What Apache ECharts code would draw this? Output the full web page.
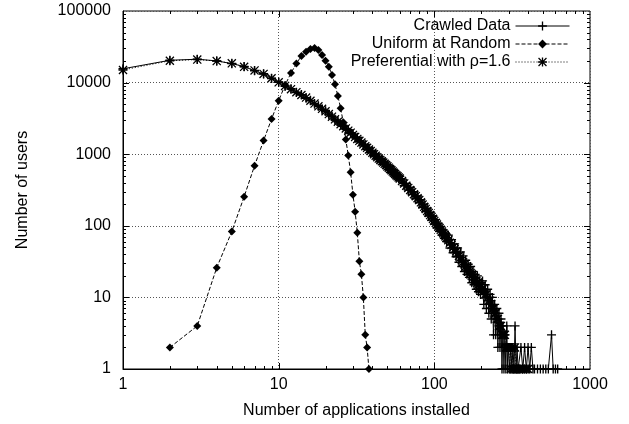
<!DOCTYPE html>
<html>
<head>
<meta charset="utf-8">
<script src="https://cdn.jsdelivr.net/npm/echarts@6/dist/echarts.min.js"></script>
<style>
html,body{margin:0;padding:0;background:#fff}
#main{width:629px;height:424px}
</style>
</head>
<body>
<div id="main"></div>
<script>
// number of applications installed (x) shared by the two long curves
const appsX = [1,2,3,4,5,6,7,8,9,10,11,12,13,14,15,16,17,18,19,20,21,22,23,24,25,26,27,28,29,30,
  31,32,33,34,35,36,37,38,39,40,41,42,43,44,45,46,47,48,49,50,51,52,53,54,55,56,57,58,59,60,
  62,64,66,68,70,72,74,76,78,80,82,84,86,88,90,92,94,96,98,100,102,104,106,108,110,112,114,116,118,120,
  123,126,129,132,135,138,141,144,147,150,153,156,159,162,165,168,171,174,177,180,183,186,189,192,195,198,201]

const crawledUsers = [15600,20500,21200,20100,18400,16800,14600,13300,11400,10200,8900,8200,7250,6800,6050,5650,5000,4750,4200,4050,3550,3400,3000,2900,2560,2520,2230,2200,1940,1910,
  1690,1720,1490,1520,1310,1360,1170,1220,1060,1110,960,1010,860,920,790,850,720,780,670,710,
  610,670,560,610,520,560,480,520,450,490,
  450,365,390,315,345,272,300,238,262,210,232,180,202,158,176,137,155,120,136,106,
  122,94,107,84,97,74,87,67,78,60,
  74,49,64,42,56,37,49,31,43,27,38,23,33,21,29,19,27,16,23,15,21,13,20,12,17,11,16]

const prefUsers = [15000,20200,21000,20000,18600,16600,14800,13200,11500,10100,9000,8090,7350,6710,6170,5580,5090,4670,4300,3980,3640,3340,3070,2840,2630,2460,2290,2130,2000,1860,
  1743,1636,1539,1451,1369,1295,1226,1163,1104,1050,1000,954,910,870,832,797,764,733,704,676,
  648,621,597,573,551,530,510,492,474,457,
  422,391,364,338,316,295,276,259,243,229,213,198,184,172,161,151,141,133,125,117,
  110,104,98,93,88,83,79,75,71,68,
  63,58,54,50,47,44,41,38,36,33,31,29,27,26,24,23,22,20,19,18,17,17,16,15,14,14,13]

// tail of the distribution, where the counts get noisy
const tailX = [204,208,212,216,220,224,228,232,236,240,244,248,252,256,260,264,268,272,276,280,284,288,292,296,300]
const crawledTail = [17,8,15,7,13,6,11,5,10,3,8,3,7,2,6,2,5,1,4,1,3,1,4,1,2]
const prefTail = [13,12,11,11,10,9,9,8,7,7,6,6,5,5,4,4,4,3,3,3,3,2,2,2,2]

const crawledFarX = [305,310,315,320,325,330,335,340,345,350,360,370,380,390,400,410,420,430,440,460,480,500,520,540,566,580,600,620]
const crawledFarUsers = [1,2,1,2,1,4,1,2,1,1,2,1,2,1,2,1,2,1,1,1,1,1,1,1,3,1,1,1]
const prefFarX = [305,310,315,320,325,330,335,340,350,360,370,380,390,400]
const prefFarUsers = [2,1,2,1,1,2,1,1,1,1,1,1,1,1]

const uniformX = [2,3,4,5,6,7,8,9,10,11,12,13,14,15,16,17,18,19,20,21,22,23,24,25,26,27,28,29,30,31,32,33,34,35,36,37,38]
const uniformUsers = [2,4,26,83,255,690,1550,3100,5600,9250,13600,18500,23600,27000,29500,30500,28500,24300,20200,16700,12800,9500,6500,4400,2800,1600,960,560,272,157,80,32,21,10,3,2,1]

const xDecades = [1,10,100]
const yDecades = [1,10,100,1000,10000]
const minorSteps = [2,3,4,5,6,7,8,9]

const pairs = (xs, ys) => xs.map((x, i) => [x, ys[i]])

const plusPath = 'path://M4.25,0H5.75V4.25H10V5.75H5.75V10H4.25V5.75H0V4.25H4.25Z'
const starPath = 'path://M4.25,0H5.75V4.25H10V5.75H5.75V10H4.25V5.75H0V4.25H4.25Z' +
  'M0,1L1,0L10,9L9,10Z' +
  'M9,0L10,1L1,10L0,9Z'

const font = 'Liberation Sans, Arial, Helvetica, sans-serif'

const myChart = echarts.init(document.getElementById('main'))

let option = {
  animation: false,
  backgroundColor: '#fff',
  textStyle: {fontFamily: font, color: '#000'},
  grid: {
    left: 123, right: 39, top: 11, bottom: 55,
    show: true, borderColor: '#000', borderWidth: 1
  },
  legend: {
    data: ['Crawled Data', 'Uniform at Random', 'Preferential with ρ=1.6'],
    orient: 'vertical',
    align: 'right',
    right: 59,
    top: 18,
    padding: 0,
    itemWidth: 54,
    itemHeight: 11,
    itemGap: 2,
    lineStyle: {width: 1},
    textStyle: {fontFamily: font, fontSize: 16, color: '#000'}
  },
  xAxis: {
    type: 'log',
    logBase: 10,
    min: 1,
    max: 1000,
    name: 'Number of applications installed',
    nameLocation: 'middle',
    nameGap: 34,
    nameTextStyle: {fontFamily: font, fontSize: 16, color: '#000'},
    axisLine: {show: true, lineStyle: {color: '#000'}},
    axisTick: {show: false},
    axisLabel: {
      margin: 8, fontFamily: font, fontSize: 16, color: '#000',
      formatter: v => String(Math.round(v))
    },
    splitLine: {show: true, lineStyle: {color: '#555', type: [1, 2], width: 1}}
  },
  yAxis: {
    type: 'log',
    logBase: 10,
    min: 1,
    max: 100000,
    name: 'Number of users',
    nameLocation: 'middle',
    nameGap: 92,
    nameTextStyle: {fontFamily: font, fontSize: 16, color: '#000'},
    axisLine: {show: true, lineStyle: {color: '#000'}},
    axisTick: {show: false},
    axisLabel: {
      margin: 12, fontFamily: font, fontSize: 16, color: '#000',
      formatter: v => String(Math.round(v))
    },
    splitLine: {show: true, lineStyle: {color: '#555', type: [1, 2], width: 1}}
  },
  series: [
    {
      name: 'Crawled Data',
      type: 'line',
      data: pairs(appsX, crawledUsers).concat(pairs(tailX, crawledTail), pairs(crawledFarX, crawledFarUsers)),
      symbol: plusPath,
      symbolSize: 9,
      showAllSymbol: true,
      itemStyle: {color: '#000'},
      lineStyle: {color: '#000', width: 1, type: 'solid'}
    },
    {
      name: 'Uniform at Random',
      type: 'line',
      data: pairs(uniformX, uniformUsers),
      symbol: 'diamond',
      symbolSize: 8,
      showAllSymbol: true,
      itemStyle: {color: '#000'},
      lineStyle: {color: '#000', width: 1, type: [4, 2]}
    },
    {
      name: 'Preferential with ρ=1.6',
      type: 'line',
      data: pairs(appsX, prefUsers).concat(pairs(tailX, prefTail), pairs(prefFarX, prefFarUsers)),
      symbol: starPath,
      symbolSize: 9,
      showAllSymbol: true,
      itemStyle: {color: '#000'},
      lineStyle: {color: '#000', width: 1, type: [1, 2]}
    },
    {
      // gnuplot style ticks: inward, mirrored on all four sides
      name: 'ticks',
      type: 'custom',
      silent: true,
      z: 10,
      data: [[1, 1]],
      renderItem: function (params, api) {
        const lines = []
        const st = {stroke: '#000', lineWidth: 1}
        const bottom = api.coord([1, 1])[1]
        const top = api.coord([1, 100000])[1]
        const left = api.coord([1, 1])[0]
        const right = api.coord([1000, 1])[0]
        xDecades.forEach(d => {
          [1].concat(minorSteps).forEach(s => {
            const v = d * s
            if (v <= 1 || v >= 1000) return
            const x = Math.round(api.coord([v, 1])[0]) + 0.5
            const len = s === 1 ? 6 : 3
            lines.push({type: 'line', shape: {x1: x, y1: bottom, x2: x, y2: bottom - len}, style: st})
            lines.push({type: 'line', shape: {x1: x, y1: top, x2: x, y2: top + len}, style: st})
          })
        })
        yDecades.forEach(d => {
          [1].concat(minorSteps).forEach(s => {
            const v = d * s
            if (v <= 1 || v >= 100000) return
            const y = Math.round(api.coord([1, v])[1]) + 0.5
            const len = s === 1 ? 6 : 3
            lines.push({type: 'line', shape: {x1: left, y1: y, x2: left + len, y2: y}, style: st})
            lines.push({type: 'line', shape: {x1: right, y1: y, x2: right - len, y2: y}, style: st})
          })
        })
        return {type: 'group', children: lines}
      }
    }
  ]
}

myChart.setOption(option)
</script>
</body>
</html>
